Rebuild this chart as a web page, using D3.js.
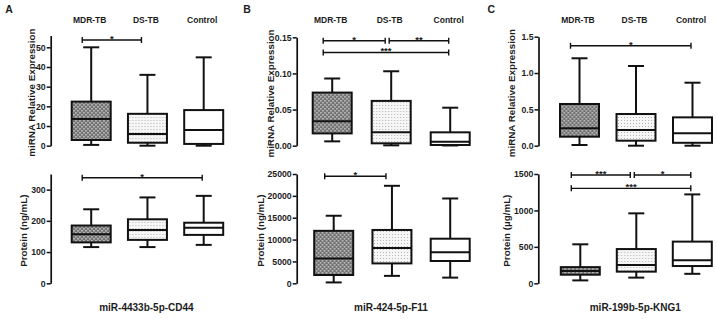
<!DOCTYPE html>
<html>
<head>
<meta charset="utf-8">
<script src="https://cdn.jsdelivr.net/npm/d3@7"></script>
<style>
  body { margin: 0; background: #fff; }
  svg text { font-family: Arial, "Liberation Sans", sans-serif; font-weight: bold; fill: #1c1c1c; }
</style>
</head>
<body>
<div id="container"></div>
<script>
const groups = ["MDR-TB", "DS-TB", "Control"];

// box stats per group: [min, q1, median, q3, max]
const mirA  = [[0.4, 2.9, 13.6, 22.4, 50], [0, 1.5, 5.9, 16.2, 36], [0, 0.9, 8, 18.1, 44.9]];
const protA = [[116, 131, 157, 185, 237], [116, 139, 171, 205, 275], [123, 155, 178, 194, 280]];
const mirB  = [[0.006, 0.017, 0.034, 0.0735, 0.093], [0.0005, 0.0033, 0.0185, 0.062, 0.103], [0.0003, 0.001, 0.0055, 0.0185, 0.0526]];
const protB = [[200, 1900, 5700, 12000, 15450], [1700, 4550, 8100, 12200, 22300], [1300, 5100, 7100, 10200, 19400]];
const mirC  = [[0.01, 0.124, 0.239, 0.574, 1.203], [0, 0.069, 0.216, 0.436, 1.097], [0, 0.04, 0.17, 0.39, 0.867]];
const protC = [[40, 118, 168, 222, 535], [78, 160, 250, 470, 960], [130, 237, 315, 572, 1220]];

// significance brackets: [from group, to group, level, stars]
const sigA1 = [[0, 1, 53.7, "*"]];
const sigA2 = [[0, 2, 338, "*"]];
const sigB1 = [[0, 1, 0.1453, "*"], [1, 2, 0.1453, "**"], [0, 2, 0.129, "***"]];
const sigB2 = [[0, 1, 24500, "*"]];
const sigC1 = [[0, 2, 1.376, "*"]];
const sigC2 = [[0, 1, 1486, "***"], [1, 2, 1486, "*"], [0, 2, 1303, "***"]];

const ticksA1 = [0, 10, 20, 30, 40, 50];
const ticksA2 = [0, 100, 200, 300];
const ticksB1 = [0, 0.05, 0.10, 0.15];
const ticksB2 = [0, 5000, 10000, 15000, 20000, 25000];
const ticksC1 = [0, 0.5, 1.0, 1.5];
const ticksC2 = [0, 500, 1000, 1500];

const letters = ["A", "B", "C"];
const geneLabels = ["miR-4433b-5p-CD44", "miR-424-5p-F11", "miR-199b-5p-KNG1"];
const mirTitle = "miRNA Relative Expression";
const protTitles = ["Protein (ng/mL)", "Protein (ng/mL)", "Protein (\u00b5g/mL)"];

const width = 717, height = 319;

const svg = d3.select("#container")
  .append("svg")
  .attr("width", width)
  .attr("height", height)
  .attr("viewBox", [0, 0, width, height]);

// fills: dark dotted grey, light dots, plain white
const defs = svg.append("defs");
const dark = defs.append("pattern").attr("id", "dark")
  .attr("patternUnits", "userSpaceOnUse").attr("width", 4).attr("height", 4);
dark.append("rect").attr("width", 4).attr("height", 4).attr("fill", "#717171");
dark.append("rect").attr("width", 1.6).attr("height", 1.6).attr("fill", "#c4c4c4");
dark.append("rect").attr("x", 2).attr("y", 2).attr("width", 1.6).attr("height", 1.6).attr("fill", "#c4c4c4");
const light = defs.append("pattern").attr("id", "light")
  .attr("patternUnits", "userSpaceOnUse").attr("width", 3).attr("height", 3);
light.append("rect").attr("width", 3).attr("height", 3).attr("fill", "#f6f6f6");
light.append("rect").attr("width", 1).attr("height", 1).attr("fill", "#b4b4b4");
const fills = ["url(#dark)", "url(#light)", "#fff"];

const panels = [
  {stats: mirA,  sig: sigA1, ticks: ticksA1, fmt: d3.format("d"),   domain: [0, 56],   y0: 145.7, yTop: 35.5, ax: 50.7,  first: 40.5, last: 153,   title: mirTitle,      tdx: 19, letter: 0},
  {stats: protA, sig: sigA2, ticks: ticksA2, fmt: d3.format("d"),   domain: [0, 350],  y0: 283.3, yTop: 174,  ax: 50.7,  first: 40.5, last: 153,   title: protTitles[0], tdx: 27, gene: 0},
  {stats: mirB,  sig: sigB1, ticks: ticksB1, fmt: d3.format(".2f"), domain: [0, 0.15], y0: 145.7, yTop: 37.3, ax: 296.7, first: 35.5, last: 153.5, title: mirTitle,      tdx: 26, letter: 1},
  {stats: protB, sig: sigB2, ticks: ticksB2, fmt: d3.format("d"),   domain: [0, 25000],y0: 283.3, yTop: 174,  ax: 296.7, first: 37,   last: 153.5, title: protTitles[1], tdx: 36.5, gene: 1},
  {stats: mirC,  sig: sigC1, ticks: ticksC1, fmt: d3.format(".1f"), domain: [0, 1.5],  y0: 145.7, yTop: 36.7, ax: 538.5, first: 41,   last: 154,   title: mirTitle,      tdx: 26.5, letter: 2},
  {stats: protC, sig: sigC2, ticks: ticksC2, fmt: d3.format("d"),   domain: [0, 1500], y0: 283.3, yTop: 174,  ax: 538.3, first: 42,   last: 154,   title: protTitles[2], tdx: 32, gene: 2}
];

const boxW = 39, capW = 16;

panels.forEach(p => {
  const y = d3.scaleLinear().domain(p.domain).range([p.y0, p.yTop]);
  const x = d3.scalePoint().domain(groups).range([p.ax + p.first, p.ax + p.last]);
  const g = svg.append("g");

  // y axis
  g.append("g")
    .attr("transform", `translate(${p.ax},0)`)
    .call(d3.axisLeft(y).tickValues(p.ticks).tickFormat(p.fmt).tickSize(4).tickSizeOuter(0).tickPadding(1))
    .call(a => a.select(".domain").attr("stroke", "#111").attr("stroke-width", 1.7))
    .call(a => a.selectAll(".tick line").attr("stroke", "#111").attr("stroke-width", 1.5))
    .call(a => a.selectAll(".tick text").attr("font-size", 8.7).attr("fill", "#1c1c1c"));

  // y title
  const ymid = (p.y0 + p.yTop) / 2 + 2;
  g.append("text")
    .attr("transform", `translate(${p.ax - p.tdx},${ymid}) rotate(-90)`)
    .attr("text-anchor", "middle")
    .attr("dy", "0.35em")
    .attr("font-size", 9.8)
    .text(p.title);

  // boxes
  const box = g.selectAll("g.box").data(p.stats).join("g").attr("class", "box")
    .attr("transform", (d, i) => `translate(${x(groups[i])},0)`);
  box.append("line").attr("y1", d => y(d[0])).attr("y2", d => y(d[1]));
  box.append("line").attr("y1", d => y(d[3])).attr("y2", d => y(d[4]));
  box.append("line").attr("x1", -capW / 2).attr("x2", capW / 2).attr("y1", d => y(d[0])).attr("y2", d => y(d[0]));
  box.append("line").attr("x1", -capW / 2).attr("x2", capW / 2).attr("y1", d => y(d[4])).attr("y2", d => y(d[4]));
  box.append("rect")
    .attr("x", -boxW / 2).attr("width", boxW)
    .attr("y", d => y(d[3])).attr("height", d => y(d[1]) - y(d[3]))
    .attr("fill", (d, i) => fills[i]);
  box.append("line").attr("x1", -boxW / 2).attr("x2", boxW / 2).attr("y1", d => y(d[2])).attr("y2", d => y(d[2]));
  box.selectAll("line, rect").attr("stroke", "#111").attr("stroke-width", 2);

  // significance brackets
  const br = g.selectAll("g.sig").data(p.sig).join("g").attr("class", "sig");
  const bx1 = d => x(groups[d[0]]) - (d[0] === 0 ? 9 : 2);
  const bx2 = d => x(groups[d[1]]) - (d[1] === 2 ? 1.5 : 6);
  br.append("path")
    .attr("d", d => {
      const yy = y(d[2]), a = bx1(d), b = bx2(d);
      return `M${a},${yy - 3}V${yy + 3}M${a},${yy}H${b}M${b},${yy - 3}V${yy + 3}`;
    })
    .attr("fill", "none").attr("stroke", "#111").attr("stroke-width", 1.4);
  br.append("text")
    .attr("x", d => (bx1(d) + bx2(d)) / 2)
    .attr("y", d => y(d[2]) + 2)
    .attr("text-anchor", "middle")
    .attr("font-size", 9.5)
    .text(d => d[3]);

  // group names and panel letter on top row
  if (p.letter !== undefined) {
    g.selectAll("text.grp").data(groups).join("text").attr("class", "grp")
      .attr("x", d => x(d) - 1.5)
      .attr("y", 22.5)
      .attr("text-anchor", "middle")
      .attr("font-size", 8.5)
      .text(d => d);
    g.append("text")
      .attr("x", p.ax - [45.5, 53.5, 51][p.letter])
      .attr("y", 12.5)
      .attr("font-size", 10.5)
      .text(letters[p.letter]);
  }

  // gene label under bottom row
  if (p.gene !== undefined) {
    g.append("text")
      .attr("x", x(groups[1]) - 1)
      .attr("y", 311)
      .attr("text-anchor", "middle")
      .attr("font-size", 10)
      .text(geneLabels[p.gene]);
  }
});
</script>
</body>
</html>
